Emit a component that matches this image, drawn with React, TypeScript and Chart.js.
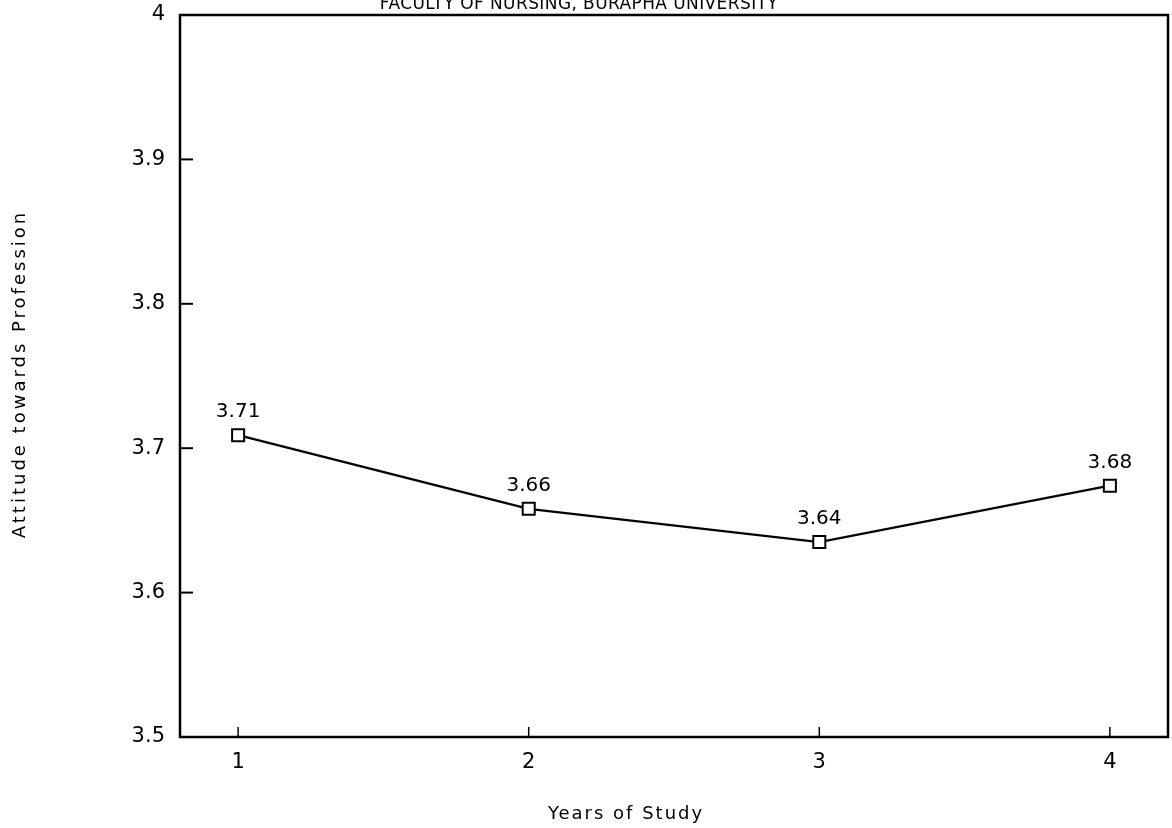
import React, { useEffect, useRef } from 'react';
import { Chart, registerables } from 'chart.js';

Chart.register(...registerables);

const years = [1, 2, 3, 4];
const attitude = [3.709, 3.658, 3.635, 3.674];
const pointLabels = ['3.71', '3.66', '3.64', '3.68'];
const xTicks = [1, 2, 3, 4];
const yTicks = [3.5, 3.6, 3.7, 3.8, 3.9, 4.0];
const yTickLabels = ['3.5', '3.6', '3.7', '3.8', '3.9', '4'];
const chartTitle = 'FACULTY OF NURSING, BURAPHA UNIVERSITY';
const xTitle = 'Years of Study';
const yTitle = 'Attitude towards Profession';

const FONT = '"DejaVu Sans", sans-serif';

const decor = {
  id: 'decor',
  afterDraw(chart: any) {
    const { ctx, chartArea: a, scales } = chart;
    ctx.save();
    ctx.strokeStyle = '#000';
    ctx.fillStyle = '#000';
    ctx.lineWidth = 2.5;
    ctx.strokeRect(a.left, a.top, a.right - a.left, a.bottom - a.top);

    ctx.lineWidth = 2;
    yTicks.forEach((v) => {
      const y = scales.y.getPixelForValue(v);
      ctx.beginPath();
      ctx.moveTo(a.left, y);
      ctx.lineTo(a.left + 13, y);
      ctx.stroke();
    });
    ctx.lineWidth = 1.5;
    xTicks.forEach((v) => {
      const x = scales.x.getPixelForValue(v);
      ctx.beginPath();
      ctx.moveTo(x, a.bottom);
      ctx.lineTo(x, a.bottom - 10);
      ctx.stroke();
    });

    const meta = chart.getDatasetMeta(0);
    ctx.font = `20px ${FONT}`;
    ctx.textAlign = 'center';
    ctx.textBaseline = 'middle';
    meta.data.forEach((pt: any, i: number) => {
      ctx.fillText(pointLabels[i], pt.x, pt.y - 23);
    });

    ctx.textBaseline = 'alphabetic';
    ctx.font = `17px ${FONT}`;
    (ctx as any).letterSpacing = '0.4px';
    ctx.fillText(chartTitle, 579, 9);

    ctx.font = `18px ${FONT}`;
    (ctx as any).letterSpacing = '2px';
    ctx.fillText(xTitle, 626, 819);

    (ctx as any).letterSpacing = '3px';
    ctx.translate(25, 374);
    ctx.rotate(-Math.PI / 2);
    ctx.fillText(yTitle, 0, 0);
    ctx.restore();
  },
};

export default function App() {
  const ref = useRef<HTMLCanvasElement>(null);
  useEffect(() => {
    document.body.style.margin = '0';
    const chart = new Chart(ref.current as HTMLCanvasElement, {
      type: 'line',
      data: {
        datasets: [
          {
            data: years.map((x, i) => ({ x, y: attitude[i] })),
            borderColor: '#000',
            borderWidth: 2.3,
            pointStyle: 'rect',
            pointRadius: 8.5,
            pointBackgroundColor: '#fff',
            pointBorderColor: '#000',
            pointBorderWidth: 2,
            tension: 0,
          },
        ],
      },
      options: {
        animation: false,
        responsive: false,
        devicePixelRatio: 1,
        layout: { autoPadding: false, padding: { top: 15, right: 4, left: 0, bottom: 0 } },
        plugins: { legend: { display: false }, tooltip: { enabled: false }, title: { display: false } },
        scales: {
          x: {
            type: 'linear',
            min: 0.8,
            max: 4.2,
            grid: { display: false, drawTicks: false },
            border: { display: false },
            afterBuildTicks: (s: any) => {
              s.ticks = xTicks.map((v) => ({ value: v }));
            },
            afterFit: (s: any) => {
              s.height = 91;
              s.paddingLeft = 0;
              s.paddingRight = 0;
            },
            ticks: {
              padding: 13,
              color: '#000',
              font: { family: FONT, size: 21 },
              callback: (v: any) => String(v),
            },
          },
          y: {
            type: 'linear',
            min: 3.5,
            max: 4.0,
            grid: { display: false, drawTicks: false },
            border: { display: false },
            afterBuildTicks: (s: any) => {
              s.ticks = yTicks.map((v) => ({ value: v }));
            },
            afterFit: (s: any) => {
              s.width = 180;
              s.paddingTop = 0;
              s.paddingBottom = 0;
            },
            ticks: {
              padding: 15,
              color: '#000',
              font: { family: FONT, size: 21 },
              callback: (_v: any, i: number) => yTickLabels[i],
            },
          },
        },
      },
      plugins: [decor],
    } as any);
    return () => chart.destroy();
  }, []);
  return <canvas ref={ref} width={1172} height={828} style={{ display: 'block', width: 1172, height: 828 }} />;
}
